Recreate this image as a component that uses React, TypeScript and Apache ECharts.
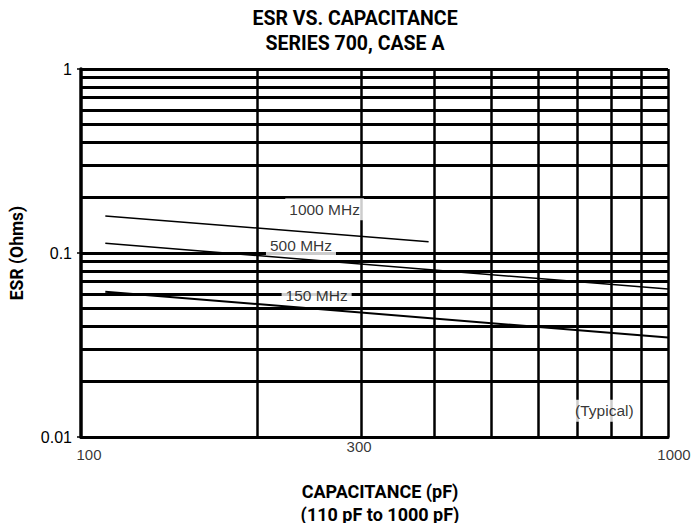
import React, { useEffect, useRef } from "react";
import * as echarts from "echarts";

const titleLines = ["ESR VS. CAPACITANCE", "SERIES 700, CASE A"];
const xAxisTitleLines = ["CAPACITANCE (pF)", "(110 pF to 1000 pF)"];
const yAxisTitle = "ESR (Ohms)";

const xRange = [100, 1000];
const yRange = [0.01, 1];
const xTickLabels = [100, 300, 1000];
const xGridValues = [200, 300, 400, 500, 600, 700, 800, 900, 1000];
const yGridValues = [
  0.02, 0.03, 0.04, 0.05, 0.06, 0.07, 0.08, 0.09, 0.1,
  0.2, 0.3, 0.4, 0.5, 0.6, 0.7, 0.8, 0.9, 1,
];

const seriesNames = ["1000 MHz", "500 MHz", "150 MHz"];
const series1000 = [[110, 0.159], [391, 0.115]];
const series500 = [[110, 0.113], [1000, 0.0637]];
const series150 = [[110, 0.0616], [1000, 0.0347]];

const annotationTexts = ["1000 MHz", "500 MHz", "150 MHz", "(Typical)"];
const annotationPoints = [[260, 0.173], [237, 0.1096], [252, 0.0591], [779, 0.0139]];

const TICK_FONT = "'Liberation Sans', Arial, sans-serif";
const BOLD_FONT = "Roboto, 'Liberation Sans', sans-serif";

// per-label nudges for the x tick labels (style only)
const xTickOffsets = [[8, 0], [-2, -8], [6, 0]];

export default function App() {
  const ref = useRef<HTMLDivElement>(null);
  useEffect(() => {
    if (!ref.current) return;
    const chart = echarts.init(ref.current, null, { renderer: "svg" });
    const lineSeries = [series1000, series500, series150].map((d, i) => ({
      name: seriesNames[i],
      type: "line",
      data: d,
      showSymbol: false,
      symbol: "none",
      z: 6,
      lineStyle: { color: "#000", width: i === 2 ? 2 : 1.5 },
    }));
    chart.setOption({
      animation: false,
      backgroundColor: "#fff",
      grid: { left: 77, right: 27, top: 69, bottom: 86 },
      xAxis: {
        type: "log",
        logBase: 10,
        min: xRange[0],
        max: xRange[1],
        axisLabel: { show: false },
        axisTick: { show: false },
        splitLine: { show: false },
        axisLine: { lineStyle: { color: "#000", width: 3 } },
      },
      yAxis: {
        type: "log",
        logBase: 10,
        min: yRange[0],
        max: yRange[1],
        name: yAxisTitle,
        nameLocation: "middle",
        nameRotate: 90,
        nameGap: 55,
        nameTextStyle: { fontFamily: BOLD_FONT, fontWeight: "bold", fontSize: 17.5, color: "#000" },
        axisLabel: {
          color: "#000",
          fontFamily: TICK_FONT,
          fontSize: 16,
          margin: 9,
          formatter: (v: number) => String(Number(v.toPrecision(3))),
        },
        axisTick: { show: true, length: 4, lineStyle: { color: "#000", width: 1.5 } },
        splitLine: { show: false },
        axisLine: { lineStyle: { color: "#000", width: 3.5 } },
      },
      graphic: [
        {
          type: "text",
          x: 355,
          y: 18,
          style: {
            text: titleLines[0],
            align: "center",
            verticalAlign: "middle",
            font: `bold 19.5px ${BOLD_FONT}`,
            fill: "#000",
          },
        },
        {
          type: "text",
          x: 355,
          y: 43,
          style: {
            text: titleLines[1],
            align: "center",
            verticalAlign: "middle",
            font: `bold 19.5px ${BOLD_FONT}`,
            fill: "#000",
          },
        },
        {
          type: "text",
          x: 380,
          y: 491,
          style: {
            text: xAxisTitleLines[0],
            align: "center",
            verticalAlign: "middle",
            font: `bold 18px ${BOLD_FONT}`,
            fill: "#000",
          },
        },
        {
          type: "text",
          x: 380,
          y: 514,
          style: {
            text: xAxisTitleLines[1],
            align: "center",
            verticalAlign: "middle",
            font: `bold 18px ${BOLD_FONT}`,
            fill: "#000",
          },
        },
      ],
      series: [
        {
          name: "grid",
          type: "line",
          data: [],
          z: 1,
          markLine: {
            silent: true,
            z: 1,
            symbol: ["none", "none"],
            label: { show: false },
            lineStyle: { color: "#000", width: 3, type: "solid" },
            data: [
              ...yGridValues.map((v) => ({ yAxis: v })),
              ...xGridValues.map((v) => ({ xAxis: v, lineStyle: { width: 2.5 } })),
            ],
          },
        },
        {
          name: "annotations",
          type: "scatter",
          z: 3,
          symbolSize: 0,
          data: annotationPoints.map((p, i) => ({ value: p, name: annotationTexts[i] })),
          label: {
            show: true,
            position: "inside",
            formatter: (p: any) => p.name,
            color: "#000",
            fontFamily: TICK_FONT,
            fontSize: 15.5,
            backgroundColor: "#fff",
            padding: [3, 4],
          },
        },
        {
          name: "xTicks",
          type: "scatter",
          z: 3,
          symbolSize: 0,
          data: xTickLabels.map((v, i) => ({
            value: [v, yRange[0]],
            label: { offset: xTickOffsets[i] },
          })),
          label: {
            show: true,
            position: "bottom",
            distance: 10,
            formatter: (p: any) => String(p.value[0]),
            color: "#000",
            fontFamily: TICK_FONT,
            fontSize: 15,
          },
        },
        ...lineSeries,
      ],
    });
    return () => chart.dispose();
  }, []);
  return <div ref={ref} style={{ width: 695, height: 523, position: "absolute", left: 0, top: 0 }} />;
}
